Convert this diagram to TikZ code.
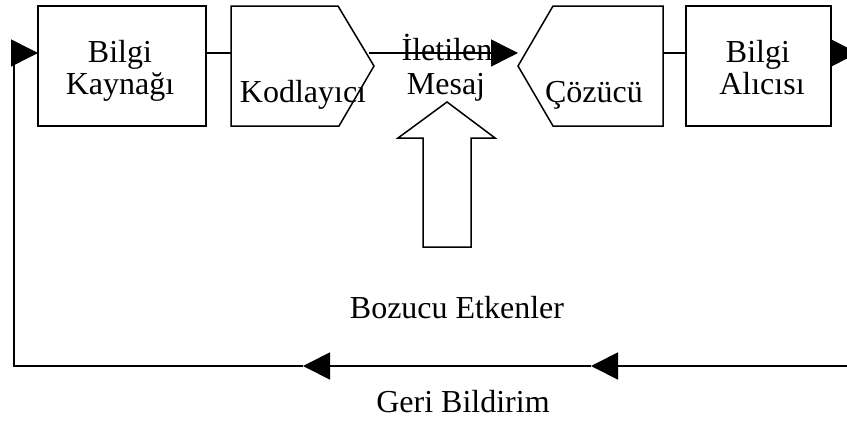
\documentclass[tikz,border=0pt]{standalone}
\usepackage{fontspec}
\setmainfont{Liberation Serif}
\usetikzlibrary{arrows.meta}
\begin{document}
\begin{tikzpicture}[x=1pt,y=-1pt,
  line width=1.5pt,
  lbl/.style={inner sep=0pt,anchor=base,font=\fontsize{32}{34}\selectfont},
  tipend/.style={-{Triangle[length=27pt,width=27pt]}},
  outline/.style={draw=black,line join=miter}]
\useasboundingbox (0,0) rectangle (847,423);
\clip (0,0) rectangle (847,423);
\fill[white] (0,0) rectangle (847,423);

% corner points of the four blocks
\coordinate (kayNW) at (38,6);   \coordinate (kaySE) at (206,126);
\coordinate (alcNW) at (686,6);  \coordinate (alcSE) at (831,126);

% blocks
\draw[outline] (kayNW) rectangle (kaySE);
\draw[outline] (231,6) -- (338,6) -- (374,66) -- (339,126) -- (231,126) -- cycle;
\draw[outline] (553,6) -- (663,6) -- (663,126) -- (553,126) -- (518,66) -- cycle;
\draw[outline] (alcNW) rectangle (alcSE);

% disturbance arrow
\draw[outline] (447,102) -- (495,138) -- (471,138) -- (471,247) -- (423,247)
  -- (423,138) -- (398,138) -- cycle;

% connection points on the signal line
\coordinate (kayE) at (206,53);
\coordinate (kodW) at (231,53);
\coordinate (kodE) at (369,53);
\coordinate (cozW) at (518,53);
\coordinate (cozE) at (663,53);
\coordinate (alcW) at (686,53);
\coordinate (alcE) at (831,53);
\coordinate (out)  at (858,53);
\coordinate (kayW) at (38,53);

% feedback loop points
\coordinate (fbR)  at (860,366);
\coordinate (fb1)  at (591,366);
\coordinate (fb2)  at (303,366);
\coordinate (fbL)  at (14,366);
\coordinate (fbT)  at (14,53);

% forward signal path
\draw (kayE) -- (kodW);
\draw[tipend] (kodE) -- (cozW);
\draw (cozE) -- (alcW);
\draw[tipend] (alcE) -- (out);

% feedback path
\draw[tipend,line width=1.8pt] (fbR) -- (fb1);
\draw[tipend,line width=1.8pt] (fb1) -- (fb2);
\draw[line width=1.6pt,line join=miter] (fb2) -- (fbL) -- (fbT);
\draw[tipend,line width=1.6pt] (fbT) -- (kayW);

% labels
\node[lbl] (kay1) at (120,62) {Bilgi};
\node[lbl] (kay2) at (120,94) {Kaynağı};
\node[lbl] (kod)  at (303,102) {Kodlayıcı};
\node[lbl] (msg1) at (447,60) {İletilen};
\node[lbl] (msg2) at (446,94) {Mesaj};
\node[lbl] (coz)  at (594,102) {Çözücü};
\node[lbl] (alc1) at (758,62) {Bilgi};
\node[lbl] (alc2) at (762,94) {Alıcısı};
\node[lbl] (boz)  at (457,318) {Bozucu Etkenler};
\node[lbl] (geri) at (463,412) {Geri Bildirim};
\end{tikzpicture}
\end{document}
